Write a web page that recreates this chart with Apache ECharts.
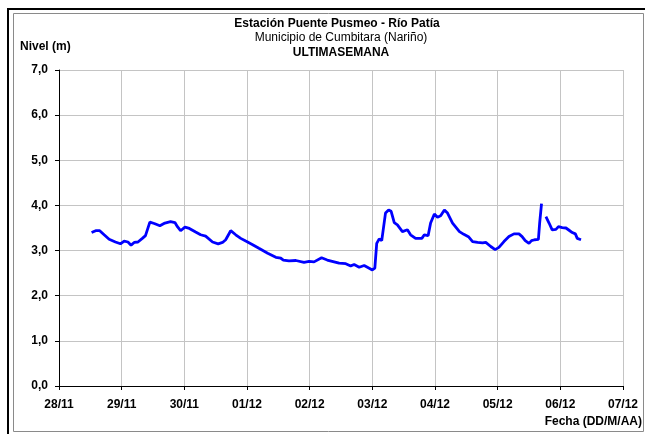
<!DOCTYPE html>
<html>
<head>
<meta charset="utf-8">
<script src="https://cdn.jsdelivr.net/npm/echarts@6/dist/echarts.min.js"></script>
<style>
  html, body { margin: 0; padding: 0; background: #fff; }
  #chart { width: 645px; height: 434px; }
</style>
</head>
<body>
<div id="chart"></div>
<script>
// dias desde 28/11 00:00
const days = [
  0.52, 0.585, 0.65, 0.72, 0.80, 0.90, 0.98, 1.04, 1.10, 1.15, 1.20, 1.26, 1.33, 1.38,
  1.45, 1.52, 1.61, 1.69, 1.78, 1.85, 1.89, 1.94, 2.01, 2.08, 2.18, 2.26, 2.34, 2.45,
  2.54, 2.61, 2.66, 2.74, 2.82, 2.90, 2.98, 3.09, 3.19, 3.33, 3.46, 3.54, 3.58, 3.67,
  3.78, 3.91, 3.99, 4.07, 4.19, 4.28, 4.39, 4.47, 4.576, 4.655, 4.71, 4.79, 4.87, 4.95,
  5.00, 5.04, 5.07, 5.11, 5.15, 5.21, 5.26, 5.30, 5.35, 5.40, 5.48, 5.56, 5.61, 5.69,
  5.79, 5.83, 5.89, 5.93, 5.99, 6.04, 6.09, 6.15, 6.20, 6.28, 6.39, 6.46, 6.54, 6.60,
  6.68, 6.76, 6.81, 6.89, 6.96, 7.02, 7.10, 7.18, 7.26, 7.34, 7.39, 7.44, 7.50, 7.54,
  7.59, 7.62, 7.65, 7.67, 7.70, 7.735, 7.77, 7.82, 7.87, 7.93, 7.97, 8.03, 8.09, 8.14,
  8.19, 8.24, 8.27, 8.33
];
const levels = [
  3.40, 3.44, 3.44, 3.35, 3.25, 3.19, 3.15, 3.21, 3.19, 3.12, 3.18, 3.19, 3.27, 3.33,
  3.63, 3.60, 3.55, 3.61, 3.64, 3.62, 3.53, 3.44, 3.52, 3.49, 3.41, 3.35, 3.32, 3.19,
  3.15, 3.18, 3.24, 3.44, 3.35, 3.27, 3.21, 3.13, 3.05, 2.94, 2.85, 2.83, 2.79, 2.77,
  2.78, 2.74, 2.76, 2.75, 2.84, 2.79, 2.75, 2.72, 2.71, 2.66, 2.69, 2.63, 2.67, 2.61,
  2.57, 2.61, 3.16, 3.26, 3.22, 3.83, 3.90, 3.87, 3.62, 3.57, 3.42, 3.46, 3.35, 3.27,
  3.27, 3.35, 3.33, 3.61, 3.81, 3.74, 3.77, 3.90, 3.83, 3.61, 3.42, 3.36, 3.30, 3.20,
  3.18, 3.17, 3.18, 3.09, 3.02, 3.07, 3.20, 3.31, 3.37, 3.37, 3.31, 3.22, 3.16, 3.22,
  3.24, 3.21, 3.25, 3.61, 4.04, null, 3.75, 3.61, 3.46, 3.47, 3.53, 3.51, 3.50, 3.45,
  3.40, 3.37, 3.27, 3.24
];
const xLabels = ['28/11', '29/11', '30/11', '01/12', '02/12', '03/12', '04/12', '05/12', '06/12', '07/12'];
const yTicks = ['0,0', '1,0', '2,0', '3,0', '4,0', '5,0', '6,0', '7,0'];

const font = 'Liberation Sans, Arial, sans-serif';
const chart = echarts.init(document.getElementById('chart'));

const option = {
  animation: false,
  backgroundColor: '#fff',
  grid: { left: 59, right: 22, top: 70, bottom: 48 },
  xAxis: {
    type: 'value',
    min: 0,
    max: 9,
    interval: 1,
    axisLine: { lineStyle: { color: '#000', width: 1 } },
    axisTick: { show: true, length: 4, lineStyle: { color: '#000' } },
    axisLabel: {
      margin: 13,
      color: '#000',
      fontFamily: font,
      fontWeight: 'bold',
      fontSize: 12,
      formatter: (v) => xLabels[Math.round(v)]
    },
    splitLine: { show: true, lineStyle: { color: '#c4c4c4', width: 1 } }
  },
  yAxis: {
    type: 'value',
    min: 0,
    max: 7,
    interval: 1,
    axisLine: { show: true, lineStyle: { color: '#000', width: 1 } },
    axisTick: { show: true, length: 4, lineStyle: { color: '#000' } },
    axisLabel: {
      margin: 11,
      color: '#000',
      fontFamily: font,
      fontWeight: 'bold',
      fontSize: 12,
      formatter: (v) => yTicks[Math.round(v)]
    },
    splitLine: { show: true, lineStyle: { color: '#c4c4c4', width: 1 } }
  },
  series: [
    {
      type: 'line',
      data: days.map((d, i) => [d, levels[i]]),
      showSymbol: false,
      connectNulls: false,
      lineStyle: { color: '#0000ff', width: 2.8 }
    }
  ],
  graphic: [
    // marco
    { type: 'polyline', shape: { points: [[8, 434], [8, 9], [645, 9]] }, style: { stroke: '#000', lineWidth: 2, fill: null } },
    { type: 'rect', shape: { x: 13.5, y: 13.5, width: 630, height: 418 }, style: { stroke: '#8a8a8a', lineWidth: 1, fill: null } },
    // titulos
    { type: 'text', x: 337, y: 24, style: { text: 'Estación Puente Pusmeo - Río Patía', font: 'bold 12px ' + font, fill: '#000', textAlign: 'center', textVerticalAlign: 'middle' } },
    { type: 'text', x: 341, y: 38, style: { text: 'Municipio de Cumbitara (Nariño)', font: '12px ' + font, fill: '#000', textAlign: 'center', textVerticalAlign: 'middle' } },
    { type: 'text', x: 341, y: 53, style: { text: 'ULTIMASEMANA', font: 'bold 12px ' + font, fill: '#000', textAlign: 'center', textVerticalAlign: 'middle' } },
    { type: 'text', x: 20, y: 47, style: { text: 'Nivel (m)', font: 'bold 12px ' + font, fill: '#000', textAlign: 'left', textVerticalAlign: 'middle' } },
    { type: 'text', x: 642, y: 422, style: { text: 'Fecha (DD/M/AA)', font: 'bold 12px ' + font, fill: '#000', textAlign: 'right', textVerticalAlign: 'middle' } }
  ]
};

chart.setOption(option);
</script>
</body>
</html>
